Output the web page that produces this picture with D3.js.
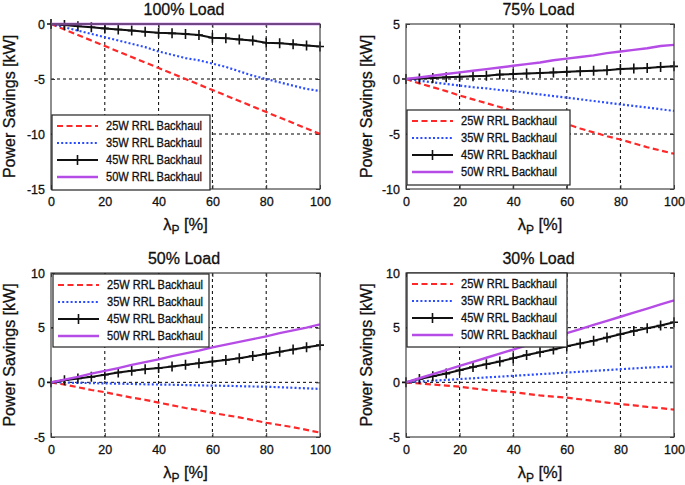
<!DOCTYPE html>
<html><head><meta charset="utf-8">
<script src="https://cdn.jsdelivr.net/npm/d3@7"></script>
<style>
body{margin:0;background:#fff;}
svg{display:block;font-family:"Liberation Sans",Arial,sans-serif;}
svg text{stroke:#111;stroke-width:0.3px;fill:#111;}
</style></head><body>
<svg id="c" width="685" height="485"></svg>
<script>
const lambda = [0,5,10,15,20,25,30,35,40,45,50,55,60,65,70,75,80,85,90,95,100];
const seriesNames = ["25W RRL Backhaul","35W RRL Backhaul","45W RRL Backhaul","50W RRL Backhaul"];
const xTicks = [0,20,40,60,80,100];

// 100% Load
const load100_25W = [0,-0.5,-1,-1.5,-2,-2.5,-3,-3.5,-4,-4.5,-5,-5.5,-6,-6.5,-7,-7.5,-8,-8.5,-9,-9.5,-10];
const load100_35W = [0,-0.3,-0.6,-0.9,-1.2,-1.5,-1.8,-2.1,-2.5,-2.8,-3.1,-3.3,-3.6,-3.9,-4.3,-4.7,-5.0,-5.3,-5.6,-5.9,-6.1];
const load100_45W = [0,-0.1,-0.2,-0.3,-0.4,-0.5,-0.6,-0.7,-0.8,-0.85,-0.9,-1.0,-1.25,-1.3,-1.4,-1.5,-1.7,-1.75,-1.85,-1.95,-2.05];
const load100_50W = [0,0,0,0,0,0,0,0,0,0,0,0,0,0,0,0,0,0,0,0,0];
const load100_yTicks = [0,-5,-10,-15];

// 75% Load
const load75_25W = [0,-0.4,-0.75,-1.1,-1.5,-1.85,-2.2,-2.55,-2.9,-3.2,-3.5,-3.8,-4.1,-4.5,-4.85,-5.2,-5.5,-5.85,-6.2,-6.5,-6.8];
const load75_35W = [0,-0.15,-0.3,-0.45,-0.6,-0.75,-0.85,-1.0,-1.1,-1.25,-1.4,-1.55,-1.7,-1.85,-2.0,-2.15,-2.3,-2.45,-2.6,-2.75,-2.9];
const load75_45W = [0,0.05,0.1,0.15,0.2,0.25,0.3,0.4,0.45,0.5,0.55,0.6,0.65,0.7,0.75,0.8,0.9,0.95,1.0,1.1,1.15];
const load75_50W = [0,0.15,0.3,0.45,0.6,0.75,0.9,1.05,1.2,1.35,1.5,1.7,1.85,2.0,2.15,2.35,2.5,2.65,2.8,3.0,3.1];
const load75_yTicks = [5,0,-5,-10];

// 50% Load
const load50_25W = [0,-0.2,-0.45,-0.7,-0.9,-1.15,-1.4,-1.6,-1.85,-2.1,-2.35,-2.55,-2.8,-3.0,-3.2,-3.45,-3.7,-3.9,-4.1,-4.35,-4.6];
const load50_35W = [0,-0.02,-0.05,-0.07,-0.1,-0.12,-0.15,-0.18,-0.2,-0.22,-0.25,-0.28,-0.3,-0.32,-0.35,-0.38,-0.4,-0.45,-0.5,-0.55,-0.6];
const load50_45W = [0,0.2,0.35,0.5,0.7,0.9,1.05,1.2,1.3,1.45,1.6,1.75,1.9,2.05,2.2,2.4,2.6,2.8,3.0,3.2,3.4];
const load50_50W = [0,0.25,0.5,0.8,1.05,1.3,1.6,1.85,2.1,2.4,2.65,2.9,3.2,3.45,3.7,3.95,4.2,4.5,4.75,5.0,5.3];
const load50_yTicks = [10,5,0,-5];

// 30% Load
const load30_25W = [0,-0.1,-0.2,-0.3,-0.4,-0.55,-0.7,-0.8,-0.9,-1.05,-1.2,-1.3,-1.4,-1.55,-1.7,-1.85,-2.0,-2.1,-2.25,-2.35,-2.5];
const load30_35W = [0,0.07,0.15,0.22,0.3,0.37,0.45,0.52,0.6,0.67,0.75,0.82,0.9,0.97,1.05,1.12,1.2,1.27,1.35,1.4,1.45];
const load30_45W = [0,0.3,0.55,0.8,1.1,1.4,1.65,1.9,2.2,2.5,2.75,3.0,3.3,3.55,3.8,4.1,4.4,4.7,4.95,5.2,5.5];
const load30_50W = [0,0.375,0.75,1.125,1.5,1.875,2.25,2.625,3.0,3.375,3.75,4.125,4.5,4.875,5.25,5.625,6.0,6.375,6.75,7.125,7.5];
const load30_yTicks = [10,5,0,-5];

const titles = ["100% Load","75% Load","50% Load","30% Load"];

const styles = [
  {color:"#ff2828", dash:"6,3.5", width:2.2, marker:false},
  {color:"#2a4cff", dash:"2,2.2", width:2.2, marker:false},
  {color:"#111111", dash:null, width:2, marker:true},
  {color:"#b64ce6", dash:null, width:2.4, marker:false}
];

const panels = [
  {title:titles[0], series:[load100_25W,load100_35W,load100_45W,load100_50W], yTicks:load100_yTicks,
   box:{x0:51,x1:320,y0:24,y1:189}, legend:{x:52,y:115,w:158,h:75}, ylabX:15},
  {title:titles[1], series:[load75_25W,load75_35W,load75_45W,load75_50W], yTicks:load75_yTicks,
   box:{x0:406,x1:674,y0:24,y1:189}, legend:{x:407,y:110,w:163,h:75}, ylabX:372},
  {title:titles[2], series:[load50_25W,load50_35W,load50_45W,load50_50W], yTicks:load50_yTicks,
   box:{x0:51,x1:320,y0:273,y1:437}, legend:{x:53,y:274,w:156,h:73}, ylabX:15},
  {title:titles[3], series:[load30_25W,load30_35W,load30_45W,load30_50W], yTicks:load30_yTicks,
   box:{x0:406,x1:674,y0:273,y1:437}, legend:{x:407,y:273,w:160,h:74}, ylabX:372}
];

const svg = d3.select("#c");

function plusMarkers(g, pts, color){
  g.selectAll(null).data(pts).enter().append("path")
    .attr("d", d => `M${d[0]-4},${d[1]}H${d[0]+4}M${d[0]},${d[1]-5}V${d[1]+5}`)
    .attr("stroke", color).attr("stroke-width", 1.6).attr("fill","none");
}

panels.forEach(p => {
  const b = p.box;
  const yExt = d3.extent(p.yTicks);
  const x = d3.scaleLinear().domain([0,100]).range([b.x0,b.x1]);
  const y = d3.scaleLinear().domain(yExt).range([b.y1,b.y0]);
  const g = svg.append("g");

  // grid
  g.append("g").selectAll("line").data(xTicks.filter(t=>t>0&&t<100)).enter().append("line")
    .attr("x1",d=>x(d)).attr("x2",d=>x(d)).attr("y1",b.y0).attr("y2",b.y1)
    .attr("stroke","#000").attr("stroke-width",1).attr("stroke-dasharray","3,3");
  g.append("g").selectAll("line").data(p.yTicks.filter(t=>t>yExt[0]&&t<yExt[1])).enter().append("line")
    .attr("x1",b.x0).attr("x2",b.x1).attr("y1",d=>y(d)).attr("y2",d=>y(d))
    .attr("stroke","#000").attr("stroke-width",1).attr("stroke-dasharray","3,3");

  // axes with inward ticks
  const xAxis = d3.axisBottom(x).tickValues(xTicks).tickSize(-4).tickPadding(8);
  const yAxis = d3.axisLeft(y).tickValues(p.yTicks).tickSize(-4).tickPadding(6)
      .tickFormat(d => d < 0 ? "-" + Math.abs(d) : String(d));
  const gx = g.append("g").attr("transform",`translate(0,${b.y1})`).call(xAxis);
  const gy = g.append("g").attr("transform",`translate(${b.x0},0)`).call(yAxis);
  [gx,gy].forEach(a => {
    a.select(".domain").remove();
    a.selectAll("line").attr("stroke","#333");
    a.selectAll("text").attr("font-size",12.5).attr("fill","#111")
      .attr("font-family","'Liberation Sans',Arial,sans-serif");
  });
  // top/right inward ticks
  g.append("g").attr("transform",`translate(0,${b.y0})`).call(d3.axisTop(x).tickValues(xTicks).tickSize(-4).tickFormat(""))
    .call(a=>{a.select(".domain").remove(); a.selectAll("line").attr("stroke","#333");});
  g.append("g").attr("transform",`translate(${b.x1},0)`).call(d3.axisRight(y).tickValues(p.yTicks).tickSize(-4).tickFormat(""))
    .call(a=>{a.select(".domain").remove(); a.selectAll("line").attr("stroke","#333");});

  // lines
  const line = d3.line().x((d,i)=>x(lambda[i])).y(d=>y(d));
  p.series.forEach((s,i) => {
    const st = styles[i];
    const path = g.append("path").datum(s).attr("d",line)
      .attr("fill","none").attr("stroke",st.color).attr("stroke-width",st.width)
      .attr("stroke-linejoin","round");
    if (st.dash) path.attr("stroke-dasharray",st.dash);
    if (st.marker) plusMarkers(g, s.map((v,k)=>[x(lambda[k]),y(v)]), st.color);
  });

  // box
  g.append("rect").attr("x",b.x0).attr("y",b.y0).attr("width",b.x1-b.x0).attr("height",b.y1-b.y0)
    .attr("fill","none").attr("stroke","#444").attr("stroke-width",1.2);

  // legend
  const L = p.legend;
  const lg = g.append("g");
  lg.append("rect").attr("x",L.x).attr("y",L.y).attr("width",L.w).attr("height",L.h)
    .attr("fill","#fff").attr("stroke","#222").attr("stroke-width",1.2);
  seriesNames.forEach((nm,i) => {
    const st = styles[i];
    const cy = L.y + 11 + i*17;
    const lx0 = L.x + 5, lx1 = L.x + 46;
    const ln = lg.append("line").attr("x1",lx0).attr("x2",lx1).attr("y1",cy).attr("y2",cy)
      .attr("stroke",st.color).attr("stroke-width",st.width);
    if (st.dash) ln.attr("stroke-dasharray",st.dash);
    if (st.marker) plusMarkers(lg, [[(lx0+lx1)/2, cy]], st.color);
    lg.append("text").attr("x",L.x+54).attr("y",cy+4.3).attr("font-size",12)
      .attr("textLength",96).attr("lengthAdjust","spacingAndGlyphs").text(nm);
  });

  // title
  g.append("text").attr("x",(b.x0+b.x1)/2 - 1.5).attr("y",b.y0-9.5).attr("text-anchor","middle")
    .attr("font-size",16).text(p.title);

  // x label
  const xl = g.append("text").attr("x",(b.x0+b.x1)/2).attr("y",b.y1+41).attr("text-anchor","middle")
    .attr("font-size",16.5);
  xl.append("tspan").text("λ");
  xl.append("tspan").attr("font-size",12).attr("dy",4).text("P");
  xl.append("tspan").attr("dy",-4).text(" [%]");

  // y label
  g.append("text").attr("transform",`translate(${p.ylabX},${(b.y0+b.y1)/2}) rotate(-90)`)
    .attr("text-anchor","middle").attr("font-size",16).text("Power Savings [kW]");
});
</script>
</body></html>
